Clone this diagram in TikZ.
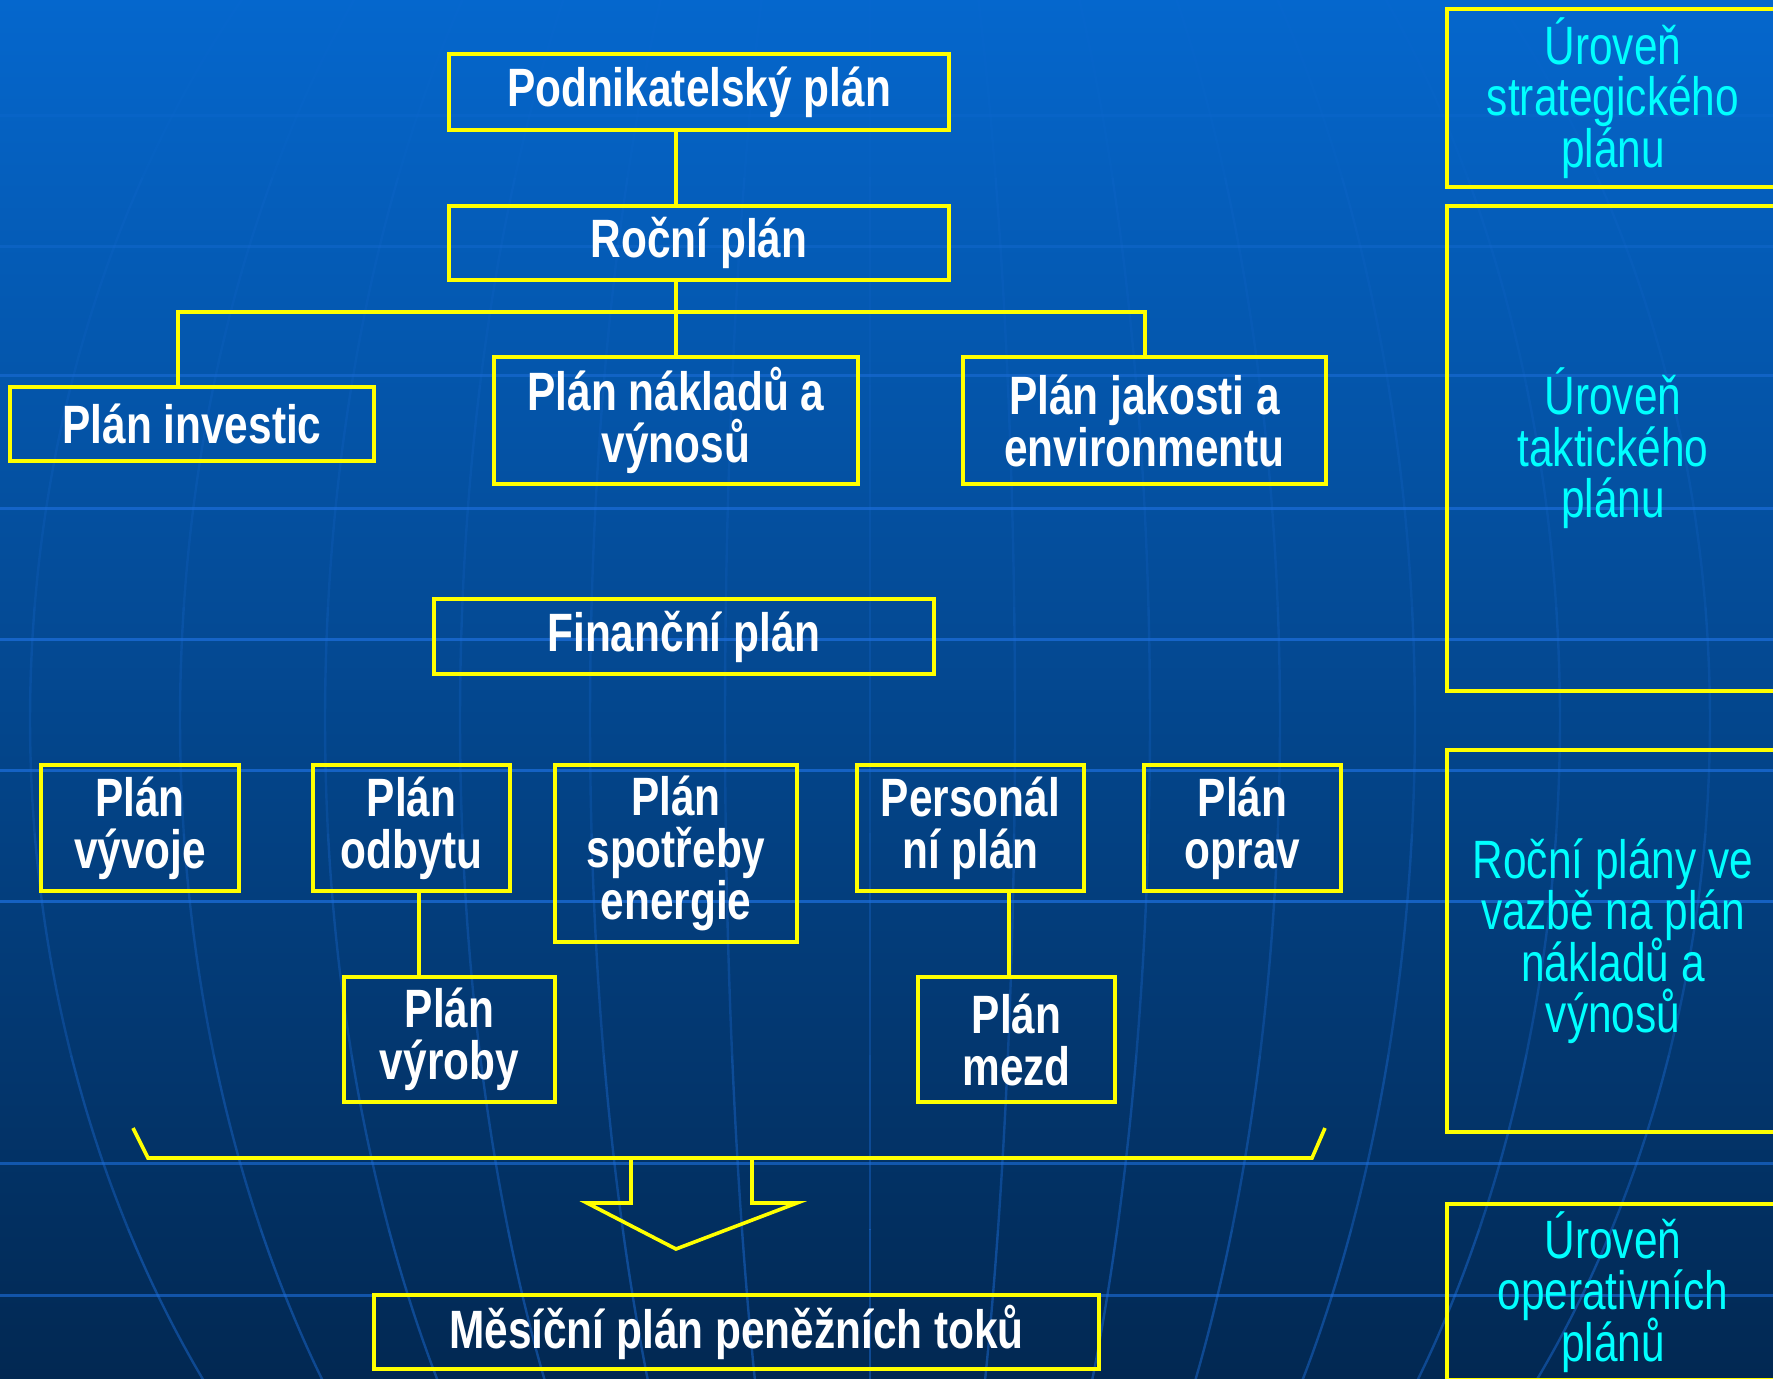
\documentclass[tikz,border=0pt]{standalone}
\usepackage{fontspec}
\setmainfont{Liberation Sans}[FakeStretch=0.785]
\usetikzlibrary{calc}
\definecolor{bgtop}{RGB}{5,103,205}
\definecolor{bgmid}{RGB}{4,80,160}
\definecolor{bgbot}{RGB}{2,40,82}
\definecolor{gridc}{RGB}{30,112,222}
\definecolor{yel}{RGB}{255,255,0}
\definecolor{cyt}{RGB}{0,255,255}
\newcommand\mytightlines{\lineskiplimit=-50pt\relax\lineskip=0pt\relax}
\begin{document}
\begin{tikzpicture}[x=0.5pt,y=-0.5pt,
  box/.style={draw=yel, line width=2pt, inner sep=0pt, align=center, text=white,
    font=\bfseries\fontsize{27}{26}\selectfont\mytightlines},
  lvl/.style={draw=yel, line width=2pt, inner sep=0pt, align=center, text=cyt,
    font=\fontsize{27}{25.75}\selectfont\mytightlines},
  conn/.style={draw=yel, line width=1.6pt},
  hline/.style={draw=gridc, line width=1.5pt},
  meridian/.style={draw=gridc, line width=1.2pt}]
\useasboundingbox (0,0) rectangle (1773,1379);
\clip (0,0) rectangle (1773,1379);
% background
\shade[top color=bgtop, middle color=bgmid, bottom color=bgbot] (0,0) rectangle (1773,1379);
\foreach \yy/\op in {116/0.15,247/0.3,376/0.5,509/0.65,640/0.7,770/0.7,901/0.7,1163/0.6,1295/0.6}
  \draw[hline, opacity=\op] (0,\yy) -- (1773,\yy);
\foreach \a in {-840,-690,-545,-410,-280,-145,0,145,280,410,545,690,840}
  \foreach \s/\e/\op in {-42/-30/0.08,-30/-18/0.12,-18/-6/0.17,-6/6/0.22,6/18/0.3,18/28/0.38,28/38/0.45}
    \draw[meridian, opacity=\op] plot[domain=\s:\e, samples=8, smooth] ({870+\a*cos(\x)},{720+1085*sin(\x)});

% boxes
\node[box, minimum width=250pt, minimum height=38pt] (pod) at (699,92) {Podnikatelský plán};
\node[box, minimum width=250pt, minimum height=37pt] (rocni) at (699,243) {Roční plán};
\node[box, minimum width=182pt, minimum height=37pt] (inv) at (192,424) {Plán investic};
\node[box, minimum width=182pt, minimum height=63.5pt] (nakl) at (676,420.5) {Plán nákladů a\\výnosů};
\node[box, minimum width=181.5pt, minimum height=63.5pt] (jak) at (1144.5,420.5) {Plán jakosti a\\environmentu};
\node[box, minimum width=250pt, minimum height=37.5pt] (fin) at (684,636.5) {Finanční plán};
\node[box, minimum width=99pt, minimum height=63pt] (vyv) at (140,828) {Plán\\vývoje};
\node[box, minimum width=98.5pt, minimum height=63pt] (odb) at (411.5,828) {Plán\\odbytu};
\node[box, minimum width=121pt, minimum height=88.5pt] (spot) at (676,853.5) {Plán\\spotřeby\\energie};
\node[box, minimum width=113.5pt, minimum height=63pt] (pers) at (970.5,828) {Personál\\ní plán};
\node[box, minimum width=98.5pt, minimum height=63pt] (opr) at (1242.5,828) {Plán\\oprav};
\node[box, minimum width=105.5pt, minimum height=62.5pt] (vyr) at (449.5,1039.5) {Plán\\výroby};
\node[box, minimum width=98.5pt, minimum height=62.5pt] (mzd) at (1016.5,1039.5) {Plán\\mezd};
\node[box, minimum width=362.5pt, minimum height=37pt] (mes) at (736.5,1332) {Měsíční plán peněžních toků};

% level boxes
\node[lvl, minimum width=166pt, minimum height=89pt] (r1) at (1613,98) {Úroveň\\strategického\\plánu};
\node[lvl, minimum width=166pt, minimum height=242.5pt] (r2) at (1613,448.5) {Úroveň\\taktického\\plánu};
\node[lvl, minimum width=166pt, minimum height=191pt] (r3) at (1613,941) {Roční plány ve\\vazbě na plán\\nákladů a\\výnosů};
\node[lvl, minimum width=166pt, minimum height=88pt] (r4) at (1613,1292) {Úroveň\\operativních\\plánů};

% connectors
\coordinate (bus) at (676,312);
\coordinate (xl) at (178,312);
\coordinate (xr) at (1145,312);
\coordinate (xo) at (419,0);
\coordinate (xp) at (1009,0);
\draw[conn] (pod.south -| bus) -- (rocni.north -| bus);
\draw[conn] (rocni.south -| bus) -- (nakl.north);
\draw[conn] (inv.north -| xl) -- (xl) -- (xr) -- (jak.north -| xr);
\draw[conn] (odb.south -| xo) -- (vyr.north -| xo);
\draw[conn] (pers.south -| xp) -- (mzd.north -| xp);

% bracket and arrow
\coordinate (b1) at (133,1128);
\coordinate (b2) at (148,1158);
\coordinate (b3) at (1312,1158);
\coordinate (b4) at (1325,1128);
\draw[conn, line width=1.8pt] (b1) -- (b2) -- (b3) -- (b4);
\coordinate (a1) at (631,1158);
\coordinate (a2) at (631,1203);
\coordinate (a3) at (587,1203);
\coordinate (a4) at (676,1249);
\coordinate (a5) at (797,1203);
\coordinate (a6) at (752,1203);
\coordinate (a7) at (752,1158);
\draw[conn, line width=1.8pt, line join=miter] (a1) -- (a2) -- (a3) -- (a4) -- (a5) -- (a6) -- (a7);
\end{tikzpicture}
\end{document}
